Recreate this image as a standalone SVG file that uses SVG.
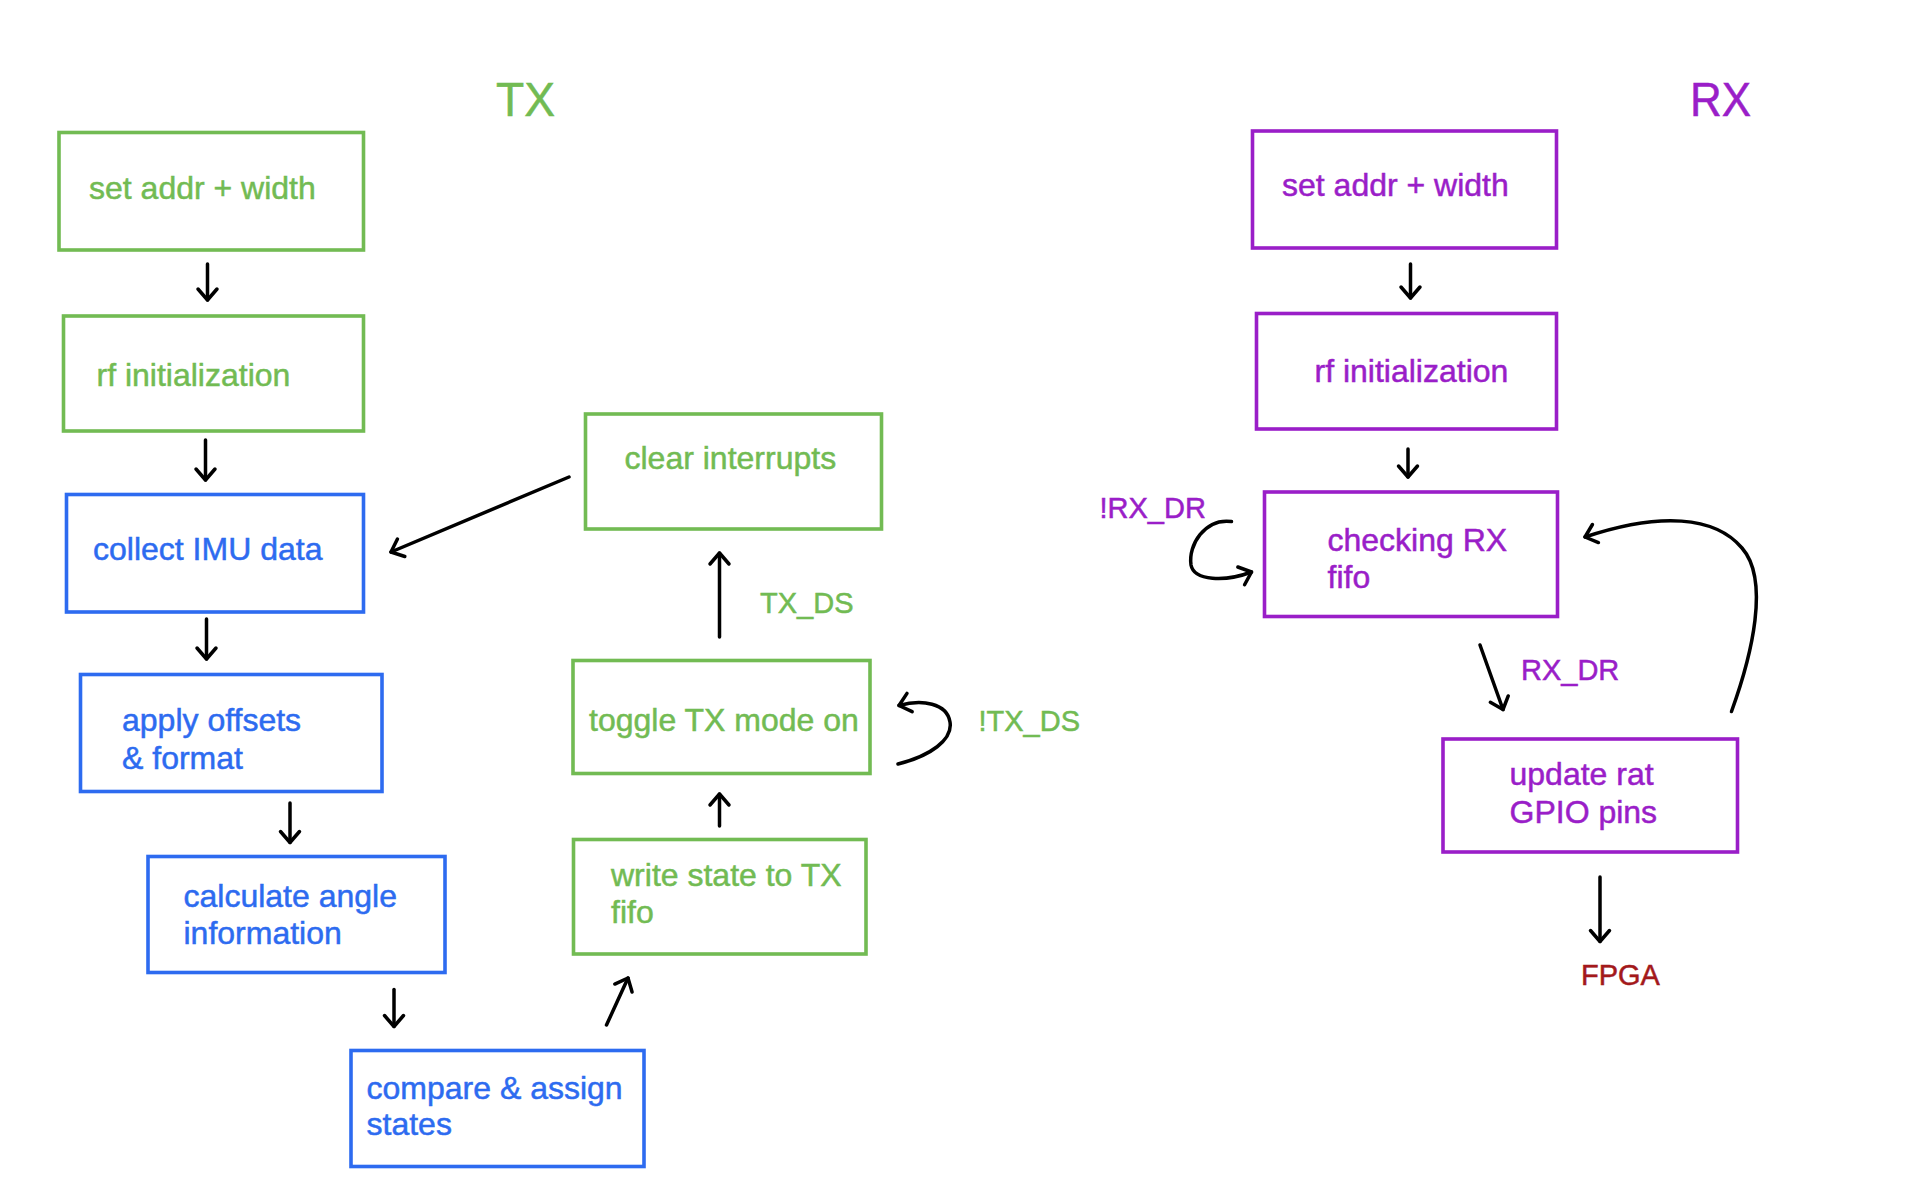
<svg xmlns="http://www.w3.org/2000/svg" width="1916" height="1192" viewBox="0 0 1916 1192">
  <style>
    .box { fill: none; stroke-width: 3.6; }
    .tx { stroke: #72bb53; }
    .cpu { stroke: #2d6bf0; }
    .rx { stroke: #9a1ec8; }
    text { font-family: "Liberation Sans", Arial, Helvetica, sans-serif; stroke-width: 0.5; paint-order: stroke; }
    .lbl { font-size: 32px; }
    .cond { font-size: 29px; }
    .title { font-size: 48px; }
    .g { fill: #72bb53; stroke: #72bb53; }
    .b { fill: #2d6bf0; stroke: #2d6bf0; }
    .p { fill: #9a1ec8; stroke: #9a1ec8; }
    .r { fill: #a3191b; stroke: #a3191b; }
    .conn path { fill: none; stroke: #000; stroke-width: 3.5; stroke-linecap: round; stroke-linejoin: round; marker-end: url(#chev); }
  </style>
  <defs>
    <marker id="chev" viewBox="-14 -12 16 24" refX="0" refY="0" markerWidth="16" markerHeight="24" markerUnits="userSpaceOnUse" orient="auto" overflow="visible">
      <path d="M -11 -9.5 L 0 0 L -11 9.5" fill="none" stroke="#000" stroke-width="3.5" stroke-linecap="round" stroke-linejoin="round"/>
    </marker>
  </defs>

  <rect width="1916" height="1192" fill="#ffffff"/>

  <!-- section titles -->
  <text class="title g" x="496" y="116" textLength="59" lengthAdjust="spacingAndGlyphs">TX</text>
  <text class="title p" x="1690" y="116" textLength="61" lengthAdjust="spacingAndGlyphs">RX</text>

  <!-- TX chain -->
  <g id="tx-set-addr">
    <rect class="box tx" x="59" y="132.5" width="304.5" height="117.5"/>
    <text class="lbl g" x="89" y="198.5">set addr + width</text>
  </g>
  <g id="tx-rf-init">
    <rect class="box tx" x="63.5" y="316" width="300" height="115"/>
    <text class="lbl g" x="96.5" y="385.5">rf initialization</text>
  </g>
  <g id="collect-imu">
    <rect class="box cpu" x="66.5" y="494.5" width="297" height="117.5"/>
    <text class="lbl b" x="93" y="560">collect IMU data</text>
  </g>
  <g id="apply-offsets">
    <rect class="box cpu" x="80.5" y="674.5" width="301.5" height="117"/>
    <text class="lbl b" x="122" y="731">apply offsets</text>
    <text class="lbl b" x="122" y="768.5">&amp; format</text>
  </g>
  <g id="calc-angle">
    <rect class="box cpu" x="148" y="856.5" width="297" height="116"/>
    <text class="lbl b" x="183.5" y="907">calculate angle</text>
    <text class="lbl b" x="183.5" y="943.5">information</text>
  </g>
  <g id="compare-assign">
    <rect class="box cpu" x="351" y="1050.5" width="293" height="116"/>
    <text class="lbl b" x="366.5" y="1098.5">compare &amp; assign</text>
    <text class="lbl b" x="366.5" y="1135">states</text>
  </g>
  <g id="write-fifo">
    <rect class="box tx" x="573.5" y="839.5" width="292.5" height="114.5"/>
    <text class="lbl g" x="611" y="885.5">write state to TX</text>
    <text class="lbl g" x="611" y="923">fifo</text>
  </g>
  <g id="toggle-tx">
    <rect class="box tx" x="573" y="660.5" width="297" height="113"/>
    <text class="lbl g" x="589" y="730.5">toggle TX mode on</text>
  </g>
  <g id="clear-irq">
    <rect class="box tx" x="585.5" y="414" width="296" height="115"/>
    <text class="lbl g" x="624.5" y="468.5">clear interrupts</text>
  </g>

  <!-- RX chain -->
  <g id="rx-set-addr">
    <rect class="box rx" x="1252.5" y="131" width="304" height="117"/>
    <text class="lbl p" x="1282" y="195.5">set addr + width</text>
  </g>
  <g id="rx-rf-init">
    <rect class="box rx" x="1256.5" y="313.5" width="300" height="115.5"/>
    <text class="lbl p" x="1314.5" y="381.5">rf initialization</text>
  </g>
  <g id="check-rx-fifo">
    <rect class="box rx" x="1264.5" y="492" width="293" height="124.5"/>
    <text class="lbl p" x="1327.5" y="551">checking RX</text>
    <text class="lbl p" x="1327.5" y="588">fifo</text>
  </g>
  <g id="update-gpio">
    <rect class="box rx" x="1443" y="739" width="294.5" height="113"/>
    <text class="lbl p" x="1509.5" y="785">update rat</text>
    <text class="lbl p" x="1509.5" y="822.5">GPIO pins</text>
  </g>
  <g id="fpga">
    <text class="cond r" x="1581" y="985">FPGA</text>
  </g>

  <!-- transition conditions -->
  <g id="conditions">
    <text class="cond g" x="760" y="613">TX_DS</text>
    <text class="cond g" x="978.5" y="730.5">!TX_DS</text>
    <text class="cond p" x="1099.5" y="517.5">!RX_DR</text>
    <text class="cond p" x="1521" y="680">RX_DR</text>
  </g>

  <!-- connectors -->
  <g id="connectors" class="conn">
    <path d="M 207.5 264 L 207.5 300"/>
    <path d="M 205.5 440 L 205.5 480"/>
    <path d="M 206.5 619 L 206.5 659"/>
    <path d="M 290 803 L 290 842.5"/>
    <path d="M 394 989.5 L 394 1026.5"/>
    <path d="M 606.5 1025 L 628 978"/>
    <path d="M 719.5 826 L 719.5 794"/>
    <path d="M 719.5 637 L 719.5 553"/>
    <path d="M 569 477 L 391 552"/>
    <path d="M 898 764 C 930 756, 953 740, 950 722 C 947 703, 922 699, 899 705.5"/>
    <path d="M 1410.5 264 L 1410.5 298"/>
    <path d="M 1408 449 L 1408 477"/>
    <path d="M 1231.5 521.5 C 1205 518, 1188 545, 1191 565 C 1194 581, 1225 582, 1251.5 572"/>
    <path d="M 1480 645 L 1503 709.5"/>
    <path d="M 1731.5 711.5 C 1752 655, 1770 580, 1742 548 C 1715 516, 1660 512, 1585 537"/>
    <path d="M 1600 877 L 1600 941.5"/>
  </g>
</svg>
